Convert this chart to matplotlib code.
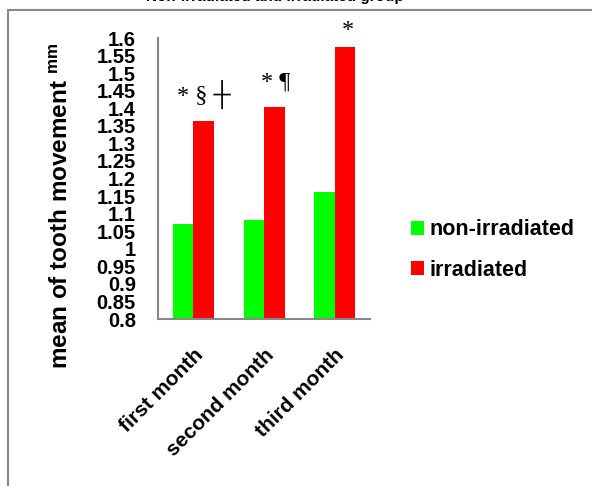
import matplotlib
matplotlib.use("Agg")
import matplotlib.pyplot as plt
import numpy as np
from matplotlib.patches import Rectangle

# data
months = ["first month", "second month", "third month"]
non_irr = [1.07, 1.083, 1.163]
irr = [1.365, 1.405, 1.575]
yticks = [0.8, 0.85, 0.9, 0.95, 1, 1.05, 1.1, 1.15, 1.2, 1.25, 1.3, 1.35, 1.4, 1.45, 1.5, 1.55, 1.6]
marks = ["* \u00a7 \u253c", "* \u00b6", "*"]
mark_x = [0.15, 1.16, 2.19]
mark_y = [1.44, 1.474, 1.622]

plt.rcParams["font.family"] = ["Liberation Sans", "DejaVu Sans"]

fig = plt.figure(figsize=(5.92, 4.86), dpi=100)
ax = fig.add_axes([0.267, 0.3436, 0.358, 0.578])

x = np.arange(len(months))
w = 0.29
ax.bar(x - w / 2, non_irr, w, color="#00ff00", label="non-irradiated")
ax.bar(x + w / 2, irr, w, color="#ff0000", label="irradiated")

ax.set_xlim(-0.5, 2.5)
ax.set_ylim(0.8, 1.6)
ax.set_yticks(yticks)
ax.set_yticklabels([f"{v:g}" for v in yticks], fontsize=14.5, fontweight="bold")
ax.tick_params(axis="y", length=0, pad=16)
ax.set_xticks(x)
ax.set_xticklabels(months, rotation=45, ha="right", va="top", rotation_mode="anchor",
                   fontsize=15, fontweight="bold")
ax.tick_params(axis="x", length=0, pad=19)
for s in ["top", "right"]:
    ax.spines[s].set_visible(False)
for s in ["left", "bottom"]:
    ax.spines[s].set_color("#888888")
    ax.spines[s].set_linewidth(1.5)

for t, mx, my in zip(marks, mark_x, mark_y):
    ax.text(mx, my, t, ha="center", va="center", fontsize=17.5,
            family=["Liberation Serif", "DejaVu Sans"], clip_on=False)

fig.text(62 / 592, 1 - 206 / 486, "mean of tooth movement $^{\\mathregular{mm}}$",
         rotation=90, ha="center", va="center", fontsize=17.5, fontweight="bold")

fig.legend(loc="center left", bbox_to_anchor=(392 / 592, 1 - 250 / 486), frameon=False,
           prop={"weight": "bold", "size": 15.5}, handlelength=0.6, handleheight=0.6,
           handletextpad=0.25, labelspacing=0.9)

fig.text(275 / 592, 1 + 3 / 486, "Non-irradiated and irradiated group", ha="center",
         va="center", fontsize=11, fontweight="bold")

fig.patches.append(Rectangle((8 / 592, -0.1), 1.2, 1.1 - 10 / 486, transform=fig.transFigure,
                             fill=False, edgecolor="#888888", linewidth=1.5))

fig.savefig("out.png", dpi=100)
